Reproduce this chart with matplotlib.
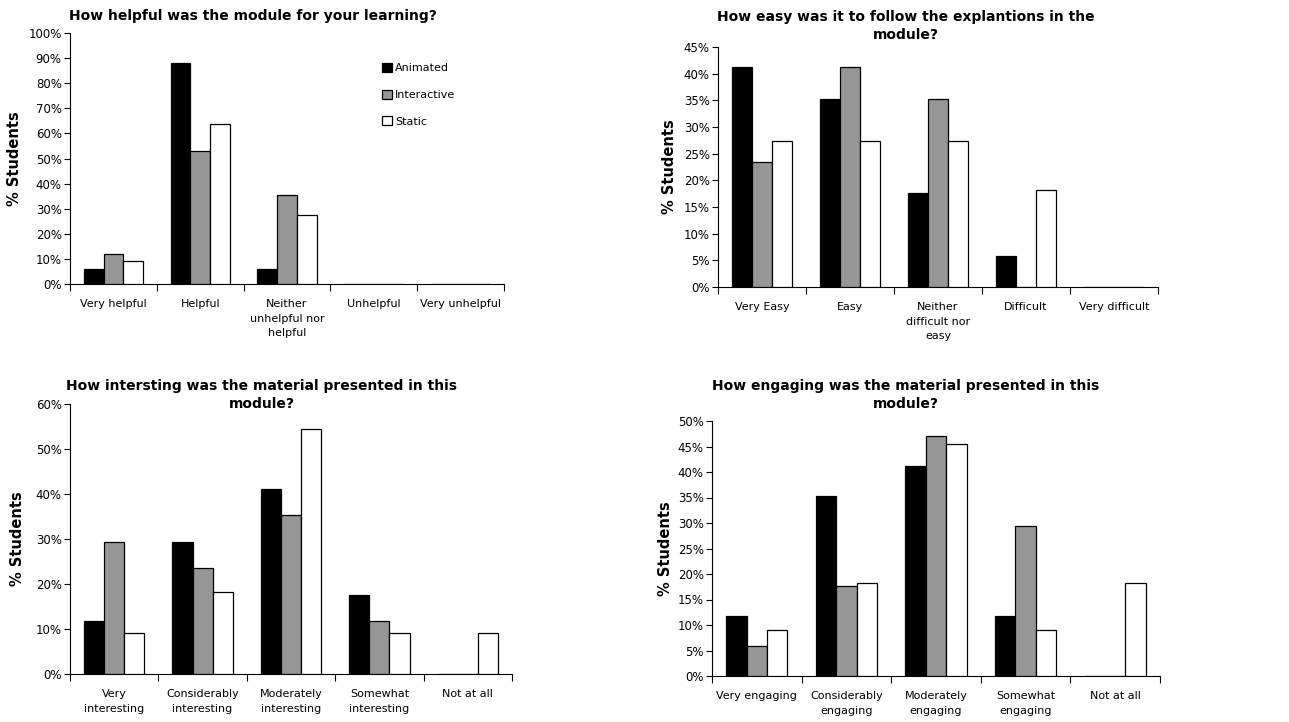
import numpy as np
import matplotlib
matplotlib.use("Agg")
import matplotlib.pyplot as plt
from matplotlib.ticker import PercentFormatter

W, H = 1289, 722

series = ['Animated', 'Interactive', 'Static']
colors = ['#000000', '#969696', '#ffffff']

# question 1
helpful_cats = ['Very helpful', 'Helpful', 'Neither\nunhelpful nor\nhelpful', 'Unhelpful', 'Very unhelpful']
helpful_anim = [5.9, 88.2, 5.9, 0, 0]
helpful_inter = [11.8, 52.9, 35.3, 0, 0]
helpful_static = [9.1, 63.6, 27.3, 0, 0]

# question 2
easy_cats = ['Very Easy', 'Easy', 'Neither\ndifficult nor\neasy', 'Difficult', 'Very difficult']
easy_anim = [41.2, 35.3, 17.6, 5.9, 0]
easy_inter = [23.5, 41.2, 35.3, 0, 0]
easy_static = [27.3, 27.3, 27.3, 18.2, 0]

# question 3
interest_cats = ['Very\ninteresting', 'Considerably\ninteresting', 'Moderately\ninteresting',
                 'Somewhat\ninteresting', 'Not at all']
interest_anim = [11.8, 29.4, 41.2, 17.6, 0]
interest_inter = [29.4, 23.5, 35.3, 11.8, 0]
interest_static = [9.1, 18.2, 54.5, 9.1, 9.1]

# question 4
engage_cats = ['Very engaging', 'Considerably\nengaging', 'Moderately\nengaging',
               'Somewhat\nengaging', 'Not at all']
engage_anim = [11.8, 35.3, 41.2, 11.8, 0]
engage_inter = [5.9, 17.6, 47.1, 29.4, 0]
engage_static = [9.1, 18.2, 45.5, 9.1, 18.2]

fig = plt.figure(figsize=(W / 100, H / 100), dpi=100)
plt.rcParams['font.family'] = 'DejaVu Sans'


def px_axes(l, t, r, b):
    return fig.add_axes([l / W, 1 - b / H, (r - l) / W, (b - t) / H])


def draw(ax, cats, vals, ymax, ystep, title, title_x, title_y, ylab_x):
    x = np.arange(len(cats))
    bw = 0.227
    for i, (v, c) in enumerate(zip(vals, colors)):
        ax.bar(x + (i - 1) * bw, v, bw, color=c, edgecolor='black', linewidth=0.9,
               label=series[i], zorder=3)
    ax.set_xlim(-0.5, len(cats) - 0.5)
    ax.set_ylim(0, ymax)
    ax.set_yticks(np.arange(0, ymax + 0.01, ystep))
    ax.yaxis.set_major_formatter(PercentFormatter(decimals=0))
    ax.tick_params(axis='y', labelsize=8.5, length=4, width=0.8, pad=2)
    # ticks at category borders, labels at centres
    ax.set_xticks(np.arange(-0.5, len(cats), 1))
    ax.set_xticklabels([])
    ax.tick_params(axis='x', which='major', length=5, width=0.8)
    ax.set_xticks(x, minor=True)
    ax.set_xticklabels(cats, minor=True, fontsize=8, linespacing=1.55)
    ax.tick_params(axis='x', which='minor', length=0, pad=11)
    for s in ['top', 'right']:
        ax.spines[s].set_visible(False)
    ax.spines['left'].set_linewidth(0.8)
    ax.spines['bottom'].set_linewidth(0.8)
    ax.set_ylabel('% Students', fontsize=10.5, fontweight='bold')
    bb = ax.get_position()
    ax.yaxis.set_label_coords((ylab_x / W - bb.x0) / bb.width, 0.5)
    fig.text(title_x / W, 1 - title_y / H, title, ha='center', va='top',
             fontsize=10, fontweight='bold', linespacing=1.35)


ax1 = px_axes(70, 33, 504, 284)
draw(ax1, helpful_cats, [helpful_anim, helpful_inter, helpful_static], 100, 10,
     'How helpful was the module for your learning?', 253, 9, 22)
ax1.legend(loc='upper left', bbox_to_anchor=(382 / W, 1 - 63 / H),
           bbox_transform=fig.transFigure, frameon=False, fontsize=8,
           handlelength=0.9, handleheight=0.9, handletextpad=0.25, labelspacing=1.45,
           borderaxespad=0, borderpad=0)

ax2 = px_axes(718, 47, 1158, 287)
draw(ax2, easy_cats, [easy_anim, easy_inter, easy_static], 45, 5,
     'How easy was it to follow the explantions in the\nmodule?', 906, 10, 677)

ax3 = px_axes(70, 404, 512, 674)
draw(ax3, interest_cats, [interest_anim, interest_inter, interest_static], 60, 10,
     'How intersting was the material presented in this\nmodule?', 262, 379, 25)

ax4 = px_axes(712, 421, 1160, 676)
draw(ax4, engage_cats, [engage_anim, engage_inter, engage_static], 50, 5,
     'How engaging was the material presented in this\nmodule?', 906, 379, 673)

fig.savefig('out.png', dpi=100)
